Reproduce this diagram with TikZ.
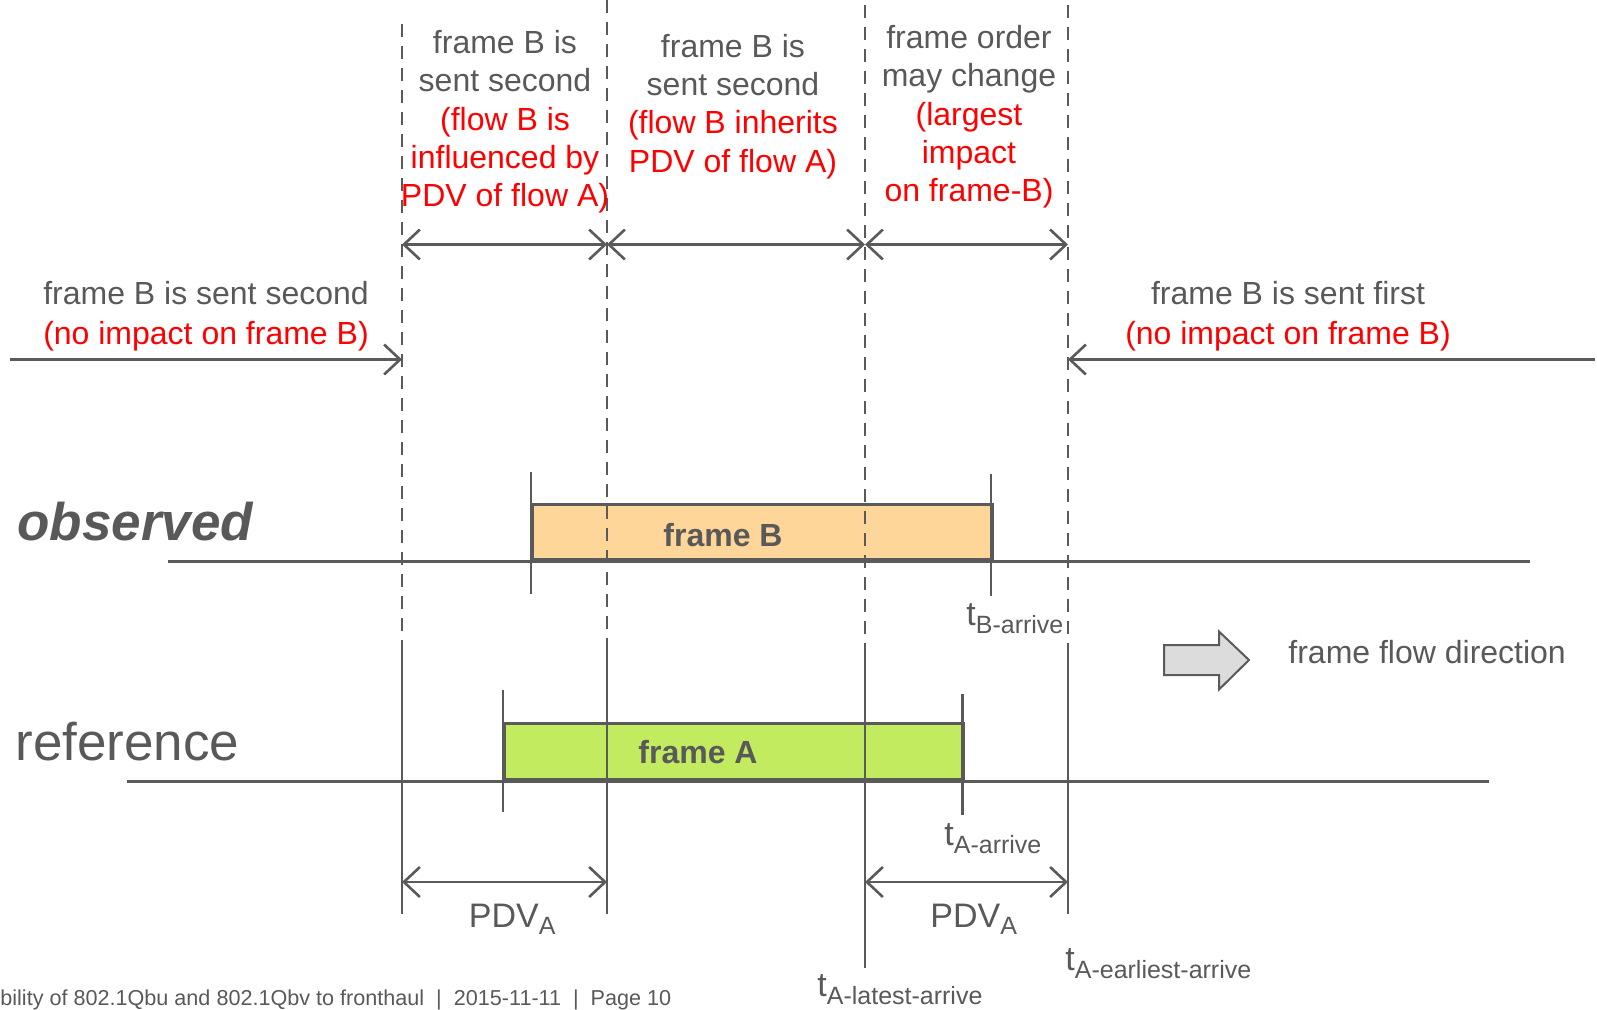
\documentclass[tikz,border=0pt]{standalone}
\usepackage{fontspec}
\setmainfont{Liberation Sans}
\usetikzlibrary{arrows.meta}
\definecolor{tgray}{HTML}{595959}
\definecolor{lgray}{HTML}{5A5A5A}
\definecolor{fbfill}{HTML}{FFD699}
\definecolor{fafill}{HTML}{C3EB60}
\definecolor{arrfill}{HTML}{DCDCDC}
\newcommand{\tsub}[2]{{\fontsize{17}{19}\selectfont #1}\raisebox{-4pt}{\fontsize{12.5}{12.5}\selectfont #2}}
\begin{document}
\begin{tikzpicture}[x=0.5pt,y=-0.5pt,
  ln/.style={draw=lgray, line width=1.3pt},
  dsh/.style={ln, line width=1.4pt, dash pattern=on 6.5pt off 4.5pt},
  barb/.tip={Straight Barb[length=8pt,width=15pt]},
  dimline/.style={ln, barb-barb},
  oneway/.style={ln, -barb},
  txt/.style={text=tgray, inner sep=0pt, font=\fontsize{16}{19.1}\selectfont},
  big/.style={text=tgray, inner sep=0pt, font=\fontsize{26.5}{30}\selectfont},
  box/.style={draw=lgray, line width=1.3pt}
]
\useasboundingbox (0,0) rectangle (1597,1009);

% ---------- rectangles ----------
\node (fB) [box, fill=fbfill, anchor=south west, minimum width=230pt, minimum height=27.5pt, inner sep=0pt] at (531,561) {};
\node (fA) [box, fill=fafill, anchor=south west, minimum width=229.75pt, minimum height=28pt, inner sep=0pt] at (503,781) {};
\node[txt, font=\fontsize{16}{19}\selectfont\bfseries, anchor=base] at (723,546) {frame B};
\node[txt, font=\fontsize{16}{19}\selectfont\bfseries, anchor=base] at (698,763) {frame A};

% ---------- time lines ----------
\coordinate (ot1) at (168,561); \coordinate (ot2) at (1530,561);
\coordinate (rt1) at (127,781); \coordinate (rt2) at (1489,781);
\draw[ln, line width=1.5pt] (ot1) -- (ot2);
\draw[ln, line width=1.5pt] (rt1) -- (rt2);

% ticks
\coordinate (tb1a) at (531,471.5); \coordinate (tb1b) at (531,594);
\coordinate (tb2a) at (991,473.6); \coordinate (tb2b) at (991,596);
\coordinate (ta1a) at (503,689.5); \coordinate (ta1b) at (503,812);
\coordinate (ta2a) at (962.5,693.6); \coordinate (ta2b) at (962.5,815);
\draw[ln] (tb1a) -- (tb1b);
\draw[ln] (tb2a) -- (tb2b);
\draw[ln] (ta1a) -- (ta1b);
\draw[ln] (ta2a) -- (ta2b);

% ---------- boundary lines ----------
\coordinate (d1t) at (402,24);  \coordinate (d1m) at (402,645); \coordinate (d1b) at (402,914);
\coordinate (d2t) at (607,0);   \coordinate (d2m) at (607,645); \coordinate (d2b) at (607,914);
\coordinate (d3t) at (865,5);   \coordinate (d3m) at (865,645); \coordinate (d3b) at (865,968);
\coordinate (d4t) at (1068,5);  \coordinate (d4m) at (1068,648); \coordinate (d4b) at (1068,914);
\draw[dsh] (d1t) -- (d1m); \draw[ln] (d1m) -- (d1b);
\draw[dsh] (d2t) -- (d2m); \draw[ln] (d2m) -- (d2b);
\draw[dsh] (d3t) -- (d3m); \draw[ln] (d3m) -- (d3b);
\draw[dsh] (d4t) -- (d4m); \draw[ln] (d4m) -- (d4b);

% ---------- top dimension arrows ----------
\coordinate (a1) at (402,244.5); \coordinate (a2) at (607,244.5);
\coordinate (a3) at (865,244.5); \coordinate (a4) at (1068,244.5);
\draw[dimline] (a1) -- (a2);
\draw[dimline] (a2) -- (a3);
\draw[dimline] (a3) -- (a4);

% ---------- side arrows ----------
\coordinate (la) at (10,359.5);   \coordinate (lb) at (402,359.5);
\coordinate (ra) at (1595,359.5); \coordinate (rb) at (1068,359.5);
\draw[oneway] (la) -- (lb);
\draw[oneway] (ra) -- (rb);

% ---------- PDV arrows ----------
\coordinate (p1) at (402,882); \coordinate (p2) at (607,882);
\coordinate (p3) at (865,882); \coordinate (p4) at (1068,882);
\draw[dimline] (p1) -- (p2);
\draw[dimline] (p3) -- (p4);

% ---------- texts ----------
\node (tx1)[txt, align=center, anchor=north] at (505,30)
  {frame B is\\sent second\\\textcolor{red}{(flow B is}\\\textcolor{red}{influenced by}\\\textcolor{red}{PDV of flow A)}};
\node (tx2)[txt, align=center, anchor=north] at (733,34)
  {frame B is\\sent second\\\textcolor{red}{(flow B inherits}\\\textcolor{red}{PDV of flow A)}};
\node (tx3)[txt, align=center, anchor=north] at (969,25)
  {frame order\\may change\\\textcolor{red}{(largest}\\\textcolor{red}{impact}\\\textcolor{red}{on frame-B)}};
\node (tl)[txt, font=\fontsize{16}{19.85}\selectfont, align=center, anchor=north] at (206,281)
  {frame B is sent second\\\textcolor{red}{(no impact on frame B)}};
\node (tr)[txt, font=\fontsize{16}{19.85}\selectfont, align=center, anchor=north] at (1288,281)
  {frame B is sent first\\\textcolor{red}{(no impact on frame B)}};

\node (obs)[big, font=\fontsize{26.5}{30}\selectfont\bfseries\itshape, anchor=base west] at (17,540) {observed};
\node (ref)[big, anchor=base west] at (15,760) {reference};

\node (tB)[txt, anchor=base west] at (966,625) {\tsub{t}{B-arrive}};
\node (tA)[txt, anchor=base west] at (944,845) {\tsub{t}{A-arrive}};
\node (tL)[txt, anchor=base west] at (817,996) {\tsub{t}{A-latest-arrive}};
\node (tE)[txt, anchor=base west] at (1065,970) {\tsub{t}{A-earliest-arrive}};

\node (pdv1)[txt, font=\fontsize{17}{20}\selectfont, anchor=base west] at (468.5,927) {PDV\raisebox{-3.5pt}{\fontsize{12.5}{12.5}\selectfont A}};
\node (pdv2)[txt, font=\fontsize{17}{20}\selectfont, anchor=base west] at (930,927) {PDV\raisebox{-3.5pt}{\fontsize{12.5}{12.5}\selectfont A}};

% ---------- flow direction ----------
\draw[draw=lgray, line width=1pt, fill=arrfill]
  (1164,645) -- (1219,645) -- (1219,631.5) -- (1249,660) -- (1219,689.5) -- (1219,675) -- (1164,675) -- cycle;
\node (fd)[txt, anchor=west] at (1288,652) {frame flow direction};

% ---------- footer ----------
\node (foot)[txt, font=\fontsize{10.8}{12}\selectfont, anchor=base west] at (0,1005)
  {bility of 802.1Qbu and 802.1Qbv to fronthaul \ \textbar\ \ 2015-11-11 \ \textbar\ \ Page 10};
\end{tikzpicture}
\end{document}
